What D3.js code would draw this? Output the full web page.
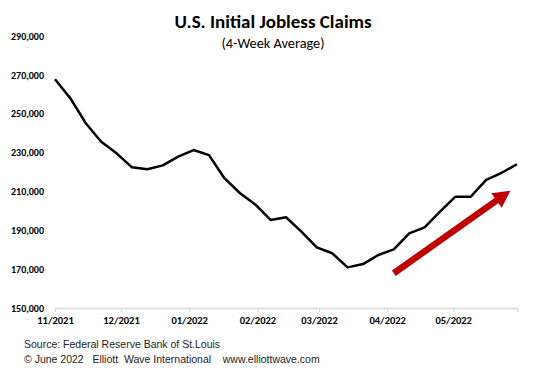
<!DOCTYPE html>
<html>
<head>
<meta charset="utf-8">
<script src="https://cdn.jsdelivr.net/npm/d3@7"></script>
<style>
  body { margin: 0; background: #fff; }
  svg { display: block; }
</style>
</head>
<body>
<svg width="543" height="386"></svg>
<script>
// weekly 4-week average, Nov 6 2021 .. Jun 4 2022
var startDate = new Date(2021, 10, 6);
var claims = [267700, 257900, 245100, 235600, 229600, 222400, 221400, 223400, 227900, 231300,
              228700, 216800, 209200, 203300, 195300, 196700, 189300, 181200, 178200, 170900,
              172600, 177300, 180200, 188400, 191500, 199600, 207300, 207300, 215900, 219600, 224000];
var yTicks = [150000, 170000, 190000, 210000, 230000, 250000, 270000, 290000];
var monthTicks = [new Date(2021, 10, 6), new Date(2021, 11, 6), new Date(2022, 0, 6), new Date(2022, 1, 6),
                  new Date(2022, 2, 6), new Date(2022, 3, 6), new Date(2022, 4, 6)];
// trend arrow annotation (date, value)
var arrowFrom = [new Date(2022, 3, 9), 167900];
var arrowTo = [new Date(2022, 5, 1), 210400];

var data = claims.map(function(v, i) {
  return { date: d3.timeDay.offset(startDate, i * 7), value: v };
});

var svg = d3.select("svg");
var font = "Carlito, Lato, 'Open Sans', sans-serif";

var x = d3.scaleTime()
    .domain([data[0].date, data[data.length - 1].date])
    .range([55, 517]);

var y = d3.scaleLinear()
    .domain([150000, 290000])
    .range([308, 36]);

// title
svg.append("text")
    .attr("x", 273).attr("y", 27.5)
    .attr("text-anchor", "middle")
    .style("font-family", font).style("font-weight", "bold").style("font-size", "19px")
    .text("U.S. Initial Jobless Claims");

svg.append("text")
    .attr("x", 273).attr("y", 47.5)
    .attr("text-anchor", "middle")
    .style("font-family", font).style("font-size", "14.3px")
    .text("(4-Week Average)");

// y axis labels (no line)
var yAxis = svg.append("g")
    .attr("transform", "translate(44,0)")
    .call(d3.axisLeft(y).tickValues(yTicks).tickSize(0).tickPadding(0).tickFormat(d3.format(",")));
yAxis.select(".domain").remove();
yAxis.selectAll("text")
    .style("font-family", font).style("font-weight", "bold").style("font-size", "10px")
    .attr("fill", "#000");

// x axis
var xAxis = svg.append("g")
    .attr("transform", "translate(0,308)")
    .call(d3.axisBottom(x).tickValues(monthTicks).tickSize(4).tickPadding(5).tickFormat(d3.timeFormat("%m/%Y")));
xAxis.select(".domain").attr("stroke", "#d9d9d9").attr("stroke-width", 1.3);
xAxis.selectAll(".tick line").attr("stroke", "#d9d9d9");
xAxis.selectAll("text")
    .style("font-family", font).style("font-weight", "bold").style("font-size", "10.5px")
    .attr("fill", "#000");

// the line
var line = d3.line()
    .x(function(d) { return x(d.date); })
    .y(function(d) { return y(d.value); });

svg.append("path")
    .datum(data)
    .attr("fill", "none")
    .attr("stroke", "#000")
    .attr("stroke-width", 2.5)
    .attr("stroke-linejoin", "round")
    .attr("d", line);

// red arrow
var x0 = x(arrowFrom[0]), y0 = y(arrowFrom[1]);
var x1 = x(arrowTo[0]), y1 = y(arrowTo[1]);
var ang = Math.atan2(y1 - y0, x1 - x0);
var headLen = 17, headHalf = 9;
var bx = x1 - headLen * Math.cos(ang), by = y1 - headLen * Math.sin(ang);
svg.append("line")
    .attr("x1", x0).attr("y1", y0)
    .attr("x2", bx + 2 * Math.cos(ang)).attr("y2", by + 2 * Math.sin(ang))
    .attr("stroke", "#c00000")
    .attr("stroke-width", 6.5);
svg.append("path")
    .attr("fill", "#c00000")
    .attr("d", "M" + x1 + "," + y1 +
      "L" + (bx - headHalf * Math.sin(ang)) + "," + (by + headHalf * Math.cos(ang)) +
      "L" + (bx + headHalf * Math.sin(ang)) + "," + (by - headHalf * Math.cos(ang)) + "Z");

// footer
var foot = "'Liberation Sans', Arial, sans-serif";
svg.append("text")
    .attr("x", 24).attr("y", 348)
    .style("font-family", foot).style("font-size", "10.5px").attr("fill", "#222")
    .text("Source: Federal Reserve Bank of St.Louis");
svg.append("text")
    .attr("x", 24).attr("y", 363)
    .style("font-family", foot).style("font-size", "10.5px").attr("fill", "#222")
    .style("white-space", "pre")
    .text("\u00a9 June 2022   Elliott  Wave International    www.elliottwave.com");
</script>
</body>
</html>
